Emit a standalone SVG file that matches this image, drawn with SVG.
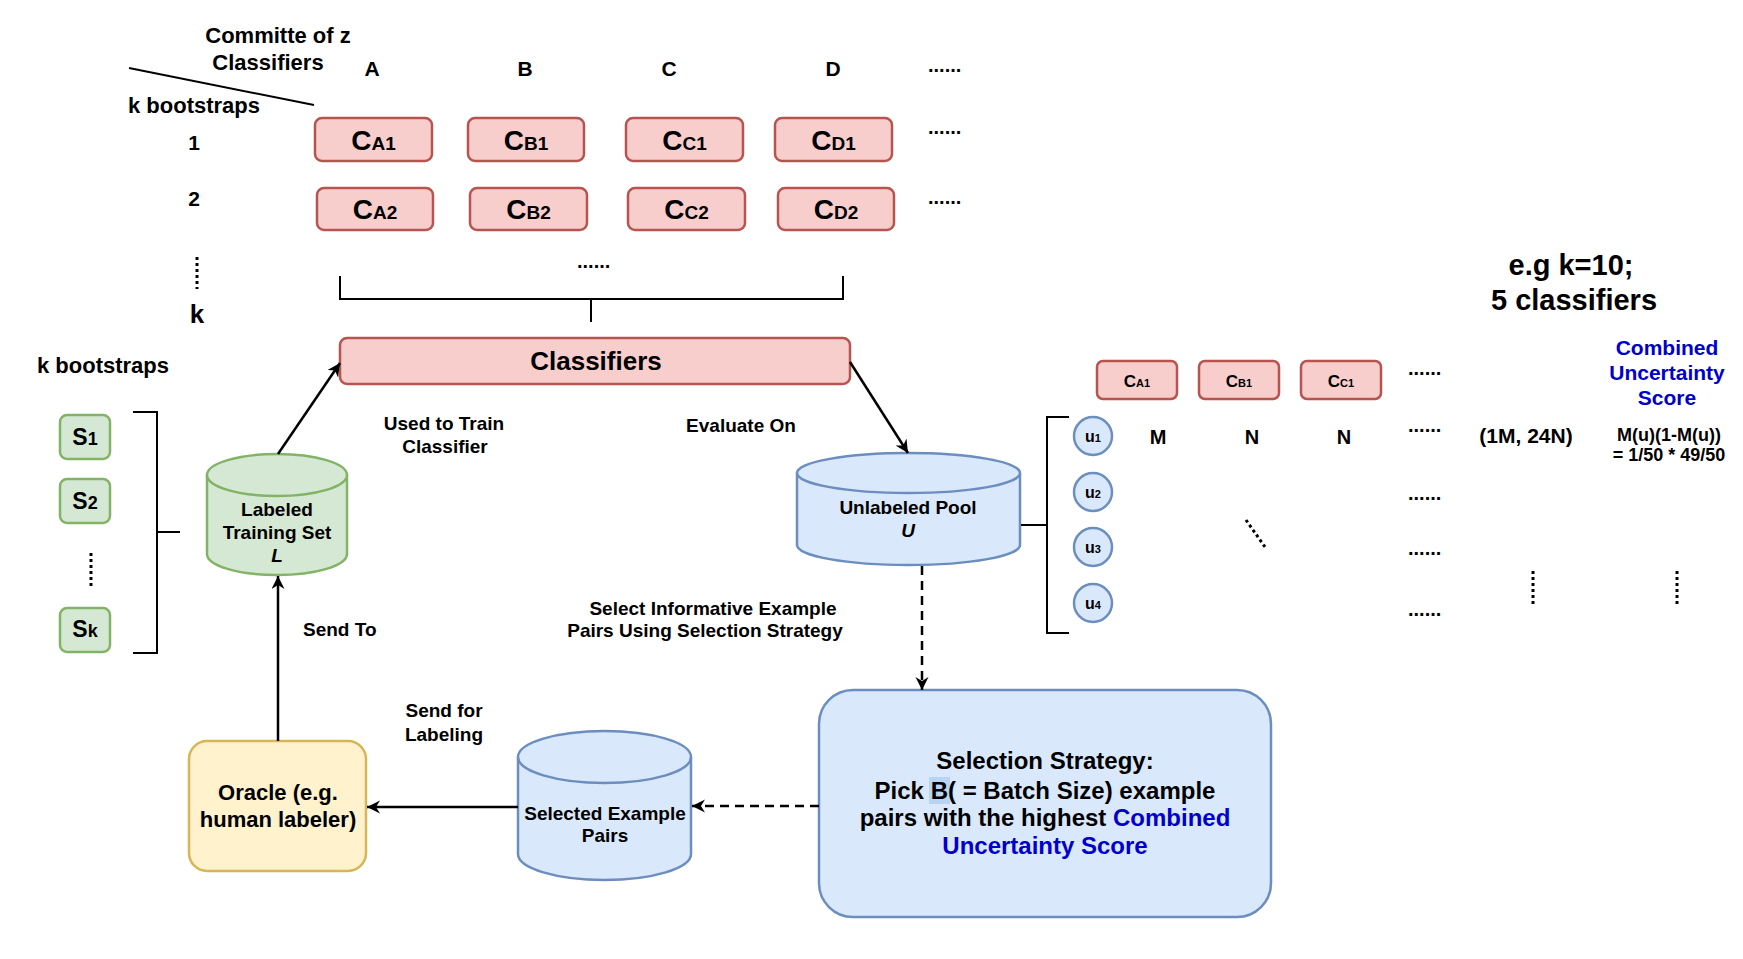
<svg xmlns="http://www.w3.org/2000/svg" width="1743" height="959" viewBox="0 0 1743 959">
<defs>
<style>
text{font-family:"Liberation Sans",Arial,Helvetica,sans-serif;font-weight:bold;fill:#000}
.m{text-anchor:middle}
.red{fill:#f8cecc;stroke:#b85450;stroke-width:2.5}
.grn{fill:#d5e8d4;stroke:#82b366;stroke-width:2.5}
.blu{fill:#dae8fc;stroke:#6c8ebf;stroke-width:2.5}
.yel{fill:#fff2cc;stroke:#d6b656;stroke-width:2.5}
.ln{fill:none;stroke:#000;stroke-width:2}
.dot{fill:none;stroke:#000;stroke-width:3;stroke-dasharray:3 3}
.con{fill:none;stroke:#000;stroke-width:2.5}
.dash{stroke-dasharray:9 6}
.bl{fill:#0000cc}
.t19{font-size:19px}
.t22{font-size:22px}
.d{font-size:20px}
</style>
<marker id="ah" markerUnits="userSpaceOnUse" markerWidth="16" markerHeight="16" refX="13" refY="6.5" orient="auto">
<path d="M0,0 L13,6.5 L0,13 L4,6.5 Z" fill="#000"/>
</marker>
</defs>
<rect width="1743" height="959" fill="#fff"/>

<g id="header">
<text class="m t22" x="278" y="43">Committe of z</text>
<text class="m t22" x="268" y="70">Classifiers</text>
<line class="ln" x1="129" y1="68" x2="314" y2="105"/>
<text class="t22" x="128" y="113">k bootstraps</text>
<text class="m" font-size="21" x="372" y="76">A</text>
<text class="m" font-size="21" x="525" y="76">B</text>
<text class="m" font-size="21" x="669" y="76">C</text>
<text class="m" font-size="21" x="833" y="76">D</text>
<text class="d" x="928" y="72">......</text>
<text class="d" x="928" y="134">......</text>
<text class="d" x="928" y="204">......</text>
<text class="m" font-size="21" x="194" y="150">1</text>
<text class="m" font-size="21" x="194" y="206">2</text>
<line class="dot" x1="197" y1="257" x2="197" y2="289"/>
<text class="m" font-size="26" x="197" y="323">k</text>
<text class="d" x="577" y="268">......</text>
</g>

<g id="CA1"><rect class="red" x="315" y="118" width="117" height="43" rx="7"/><text class="m" x="373.5" y="150"><tspan font-size="28">C</tspan><tspan font-size="19">A1</tspan></text></g>
<g id="CB1"><rect class="red" x="468" y="118" width="116" height="43" rx="7"/><text class="m" x="526" y="150"><tspan font-size="28">C</tspan><tspan font-size="19">B1</tspan></text></g>
<g id="CC1"><rect class="red" x="626" y="118" width="117" height="43" rx="7"/><text class="m" x="684.5" y="150"><tspan font-size="28">C</tspan><tspan font-size="19">C1</tspan></text></g>
<g id="CD1"><rect class="red" x="775" y="118" width="117" height="43" rx="7"/><text class="m" x="833.5" y="150"><tspan font-size="28">C</tspan><tspan font-size="19">D1</tspan></text></g>
<g id="CA2"><rect class="red" x="317" y="188" width="116" height="42" rx="7"/><text class="m" x="375" y="219"><tspan font-size="28">C</tspan><tspan font-size="19">A2</tspan></text></g>
<g id="CB2"><rect class="red" x="470" y="188" width="117" height="42" rx="7"/><text class="m" x="528.5" y="219"><tspan font-size="28">C</tspan><tspan font-size="19">B2</tspan></text></g>
<g id="CC2"><rect class="red" x="628" y="188" width="117" height="42" rx="7"/><text class="m" x="686.5" y="219"><tspan font-size="28">C</tspan><tspan font-size="19">C2</tspan></text></g>
<g id="CD2"><rect class="red" x="778" y="188" width="116" height="42" rx="7"/><text class="m" x="836" y="219"><tspan font-size="28">C</tspan><tspan font-size="19">D2</tspan></text></g>

<g id="topBracket">
<path class="ln" d="M340,276 V299 H843 V276 M591,299 V322"/>
</g>

<g id="classifiers"><rect class="red" x="340" y="338" width="510" height="46" rx="7"/><text class="m" font-size="26" x="596" y="370">Classifiers</text></g>

<g id="bootstraps">
<text class="t22" x="37" y="373">k bootstraps</text>
<path class="ln" d="M133,412 H157 V653 H133 M157,532 H180"/>
<line class="dot" x1="91" y1="553" x2="91" y2="586"/>
</g>
<g id="S1"><rect class="grn" x="60" y="415" width="50" height="44" rx="7"/><text class="m" x="85" y="445"><tspan font-size="23">S</tspan><tspan font-size="18">1</tspan></text></g>
<g id="S2"><rect class="grn" x="60" y="479" width="50" height="44" rx="7"/><text class="m" x="85" y="509"><tspan font-size="23">S</tspan><tspan font-size="18">2</tspan></text></g>
<g id="Sk"><rect class="grn" x="60" y="608" width="50" height="44" rx="7"/><text class="m" x="85" y="637"><tspan font-size="23">S</tspan><tspan font-size="18">k</tspan></text></g>

<g id="labeled">
<path class="grn" d="M207,475 V554 A70,21 0 0 0 347,554 V475 A70,21 0 0 0 207,475 Z"/>
<path class="grn" fill="none" d="M207,475 A70,21 0 0 0 347,475"/>
<text class="m t19" x="277" y="516">Labeled</text>
<text class="m t19" x="277" y="539">Training Set</text>
<text class="m t19" x="277" y="562" font-style="italic">L</text>
</g>

<g id="unlabeled">
<path class="blu" d="M797,473 V545 A111.5,20 0 0 0 1020,545 V473 A111.5,20 0 0 0 797,473 Z"/>
<path class="blu" fill="none" d="M797,473 A111.5,20 0 0 0 1020,473"/>
<text class="m t19" x="908" y="514">Unlabeled Pool</text>
<text class="m t19" x="908" y="537" font-style="italic">U</text>
<path class="ln" d="M1021,525 H1047 M1069,417 H1047 V633 H1069"/>
</g>

<g id="selected">
<path class="blu" d="M518,757 V854 A86.5,26 0 0 0 691,854 V757 A86.5,26 0 0 0 518,757 Z"/>
<path class="blu" fill="none" d="M518,757 A86.5,26 0 0 0 691,757"/>
<text class="m t19" x="605" y="820">Selected Example</text>
<text class="m t19" x="605" y="842">Pairs</text>
</g>

<g id="oracle">
<rect class="yel" x="189" y="741" width="177" height="130" rx="18"/>
<text class="m t22" x="278" y="800">Oracle (e.g.</text>
<text class="m t22" x="278" y="827">human labeler)</text>
</g>

<g id="selection">
<rect class="blu" x="819" y="690" width="452" height="227" rx="34"/>
<rect x="929" y="777" width="21" height="27" fill="#b9d4f2"/>
<text class="m" font-size="24" x="1045" y="769">Selection Strategy:</text>
<text class="m" font-size="24" x="1045" y="799">Pick B( = Batch Size) example</text>
<text class="m" font-size="24" x="1045" y="826">pairs with the highest <tspan class="bl">Combined</tspan></text>
<text class="m bl" font-size="24" x="1045" y="854">Uncertainty Score</text>
</g>

<g id="labels">
<text class="m t19" x="444" y="430">Used to Train</text>
<text class="m t19" x="445" y="453">Classifier</text>
<text class="m t19" x="741" y="432">Evaluate On</text>
<text class="t19" x="303" y="636">Send To</text>
<text class="m t19" x="444" y="717">Send for</text>
<text class="m t19" x="444" y="741">Labeling</text>
<text class="m t19" x="713" y="615">Select Informative Example</text>
<text class="m t19" x="705" y="637">Pairs Using Selection Strategy</text>
</g>

<g id="example">
<text class="m" font-size="29" x="1571" y="275">e.g k=10;</text>
<text class="m" font-size="29" x="1574" y="310">5 classifiers</text>
<text class="m bl" font-size="21" x="1667" y="355">Combined</text>
<text class="m bl" font-size="21" x="1667" y="380">Uncertainty</text>
<text class="m bl" font-size="21" x="1667" y="405">Score</text>
<text class="m" font-size="18" x="1669" y="441">M(u)(1-M(u))</text>
<text class="m" font-size="18" x="1669" y="461">= 1/50 * 49/50</text>
<text class="m" font-size="21" x="1526" y="443">(1M, 24N)</text>
<text class="m d" x="1158" y="444">M</text>
<text class="m d" x="1252" y="444">N</text>
<text class="m d" x="1344" y="444">N</text>
<text class="d" x="1408" y="375">......</text>
<text class="d" x="1408" y="432">......</text>
<text class="d" x="1408" y="500">......</text>
<text class="d" x="1408" y="555">......</text>
<text class="d" x="1408" y="616">......</text>
<line class="dot" x1="1246" y1="520" x2="1265" y2="547"/>
<line class="dot" x1="1533" y1="571" x2="1533" y2="604"/>
<line class="dot" x1="1677" y1="571" x2="1677" y2="604"/>
</g>
<g id="sCA1"><rect class="red" x="1097" y="361" width="80" height="38" rx="6"/><text class="m" x="1137" y="387"><tspan font-size="17">C</tspan><tspan font-size="11">A1</tspan></text></g>
<g id="sCB1"><rect class="red" x="1199" y="361" width="80" height="38" rx="6"/><text class="m" x="1239" y="387"><tspan font-size="17">C</tspan><tspan font-size="11">B1</tspan></text></g>
<g id="sCC1"><rect class="red" x="1301" y="361" width="80" height="38" rx="6"/><text class="m" x="1341" y="387"><tspan font-size="17">C</tspan><tspan font-size="11">C1</tspan></text></g>
<g id="u1"><circle class="blu" cx="1093" cy="436" r="19"/><text class="m" x="1093" y="442"><tspan font-size="16">u</tspan><tspan font-size="11">1</tspan></text></g>
<g id="u2"><circle class="blu" cx="1093" cy="492" r="19"/><text class="m" x="1093" y="498"><tspan font-size="16">u</tspan><tspan font-size="11">2</tspan></text></g>
<g id="u3"><circle class="blu" cx="1093" cy="547" r="19"/><text class="m" x="1093" y="553"><tspan font-size="16">u</tspan><tspan font-size="11">3</tspan></text></g>
<g id="u4"><circle class="blu" cx="1093" cy="603" r="19"/><text class="m" x="1093" y="609"><tspan font-size="16">u</tspan><tspan font-size="11">4</tspan></text></g>

<g id="connectors">
<line class="con" x1="278" y1="454" x2="340" y2="363" marker-end="url(#ah)"/>
<line class="con" x1="850" y1="362" x2="908" y2="453" marker-end="url(#ah)"/>
<line class="con dash" x1="922" y1="566" x2="922" y2="690" marker-end="url(#ah)"/>
<line class="con dash" x1="819" y1="806" x2="692" y2="806" marker-end="url(#ah)"/>
<line class="con" x1="518" y1="807" x2="367" y2="807" marker-end="url(#ah)"/>
<line class="con" x1="278" y1="741" x2="278" y2="576" marker-end="url(#ah)"/>
</g>
</svg>
